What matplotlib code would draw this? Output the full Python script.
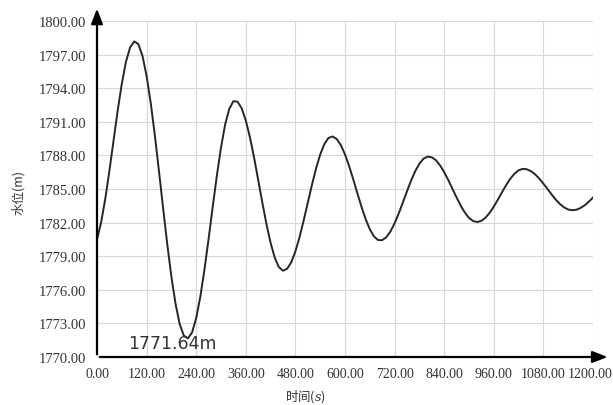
import matplotlib
matplotlib.use("Agg")
import matplotlib.pyplot as plt
import matplotlib.transforms as mtransforms

plt.rcParams['font.family'] = ['Noto Sans CJK SC', 'DejaVu Sans']
plt.rcParams['mathtext.fontset'] = 'dejavuserif'

# time (s), read every 10 s off the reference curve
time_s = list(range(0, 1201, 10))
level_m = [
    1780.50, 1782.02, 1784.12, 1786.62, 1789.32, 1791.99, 1794.39, 1796.35, 1797.63, 1798.18,
    1797.94, 1796.89, 1795.09, 1792.68, 1789.77, 1786.57, 1783.27, 1780.07, 1777.16, 1774.75,
    1772.95, 1771.91, 1771.66, 1772.19, 1773.47, 1775.39, 1777.81, 1780.55, 1783.42, 1786.20,
    1788.70, 1790.76, 1792.15, 1792.84, 1792.80, 1792.21, 1791.12, 1789.62, 1787.81, 1785.81,
    1783.78, 1781.86, 1780.19, 1778.87, 1778.03, 1777.70, 1777.88, 1778.46, 1779.43, 1780.70,
    1782.19, 1783.78, 1785.37, 1786.84, 1788.08, 1789.01, 1789.56, 1789.69, 1789.46, 1788.91,
    1788.09, 1787.04, 1785.86, 1784.61, 1783.40, 1782.31, 1781.41, 1780.77, 1780.44, 1780.43,
    1780.70, 1781.21, 1781.94, 1782.82, 1783.80, 1784.80, 1785.76, 1786.60, 1787.26, 1787.71,
    1787.89, 1787.83, 1787.57, 1787.11, 1786.50, 1785.79, 1785.01, 1784.24, 1783.51, 1782.89,
    1782.42, 1782.14, 1782.05, 1782.16, 1782.44, 1782.88, 1783.43, 1784.06, 1784.72, 1785.36,
    1785.92, 1786.37, 1786.67, 1786.80, 1786.76, 1786.59, 1786.31, 1785.93, 1785.48, 1785.00,
    1784.51, 1784.05, 1783.66, 1783.36, 1783.17, 1783.10, 1783.15, 1783.31, 1783.55, 1783.87,
    1784.24,
]

x_ticks = [0, 120, 240, 360, 480, 600, 720, 840, 960, 1080, 1200]
y_ticks = [1770, 1773, 1776, 1779, 1782, 1785, 1788, 1791, 1794, 1797, 1800]
min_label = "1771.64m"

fig = plt.figure(figsize=(6.13, 4.06), dpi=100)
ax = fig.add_axes([97 / 613, 1 - 358 / 406, 496 / 613, 336 / 406])

ax.plot(time_s, level_m, color='#262626', linewidth=1.4, solid_joinstyle='round')

ax.set_xlim(0, 1200)
ax.set_ylim(1770, 1800)
ax.set_xticks(x_ticks)
ax.set_yticks(y_ticks)
ax.set_xticklabels([f"{v:.2f}" for v in x_ticks], family='Liberation Serif', fontsize=10, color='#333333')
ax.set_yticklabels([f"{v:.2f}" for v in y_ticks], family='Liberation Serif', fontsize=10.5, color='#333333')
ax.tick_params(axis='both', length=0)
ax.tick_params(axis='y', pad=8)
ax.tick_params(axis='x', pad=7)
ax.grid(True, color='#d8d8d8', linewidth=0.8)

# nudge the last x label so it stays inside the figure
last = ax.get_xticklabels()[-1]
last.set_transform(last.get_transform() + mtransforms.ScaledTranslation(-3 / 100, 0, fig.dpi_scale_trans))

for s in ax.spines.values():
    s.set_visible(False)

# axis lines with arrow heads
ax.annotate('', xy=(1.035, 0), xytext=(0, 0), xycoords='axes fraction',
            arrowprops=dict(arrowstyle='-|>,head_length=0.9,head_width=0.35', color='black', lw=1.6),
            annotation_clip=False)
ax.annotate('', xy=(0, 1.045), xytext=(0, 0), xycoords='axes fraction',
            arrowprops=dict(arrowstyle='-|>,head_length=0.9,head_width=0.35', color='black', lw=1.6),
            annotation_clip=False)

ax.text(75, 1770.45, min_label, fontsize=12.5, color='#333333', family='DejaVu Sans',
        ha='left', va='bottom')

fig.text(18 / 613, 1 - 193 / 406, "水位(m)", rotation=90, ha='center', va='center',
         fontsize=9, color='#333333')
fig.text(305 / 613, 1 - 397 / 406, "时间($s$)", ha='center', va='center',
         fontsize=9, color='#333333')

fig.savefig("out.png", dpi=100)
